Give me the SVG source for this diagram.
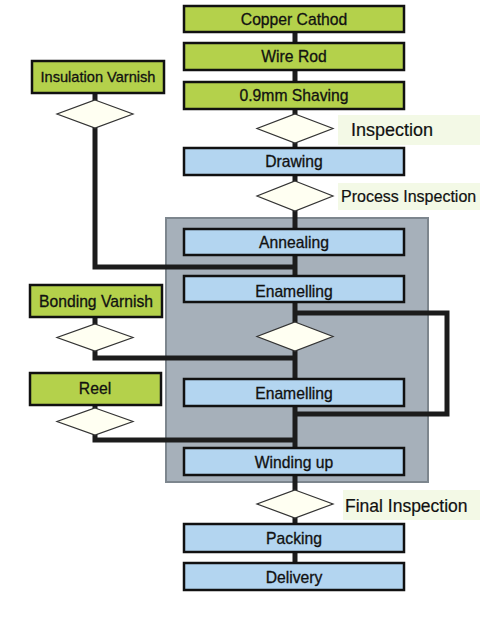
<svg xmlns="http://www.w3.org/2000/svg" width="480" height="630" viewBox="0 0 480 630">
<style>
.g{fill:#b4d14b;stroke:#111;stroke-width:2.5}
.b{fill:#b3d5f0;stroke:#111;stroke-width:2.5}
.d{fill:#fffff2;stroke:#333;stroke-width:1.2}
.t{font-family:"Liberation Sans",Arial,sans-serif;font-size:15.7px;fill:#111;stroke:#111;stroke-width:0.3;text-anchor:middle}
.l{font-family:"Liberation Sans",Arial,sans-serif;fill:#111;stroke:#111;stroke-width:0.2}
.c{fill:none;stroke:#1c1c1c;stroke-width:5;stroke-linejoin:miter}
.lb{fill:#f3f9e6}
</style>
<rect id="panel" x="166" y="218" width="262" height="264" fill="#a6b0ba" stroke="#7d868e" stroke-width="2"/>
<g id="labels-bg">
<rect class="lb" x="338" y="115" width="142" height="30"/>
<rect class="lb" x="338" y="183" width="142" height="27"/>
<rect class="lb" x="343" y="490" width="137" height="30"/>
</g>
<g id="connectors">
<path class="c" d="M295 32V565"/>
<path class="c" d="M95 93V267H295"/>
<path class="c" d="M95 317V358H295"/>
<path class="c" d="M95 405V440H295"/>
<path class="c" d="M295 313H447V414H295"/>
</g>
<g id="copper"><rect class="g" x="184" y="6" width="220" height="26"/><text class="t" x="294" y="25">Copper Cathod</text></g>
<g id="wirerod"><rect class="g" x="184" y="43" width="220" height="27"/><text class="t" x="294" y="62">Wire Rod</text></g>
<g id="shaving"><rect class="g" x="184" y="82" width="220" height="27"/><text class="t" x="294" y="101">0.9mm Shaving</text></g>
<g id="insp1"><polygon class="d" points="295,114 333,128.5 295,143 257,128.5"/><text class="l" x="351" y="136" style="font-size:18px">Inspection</text></g>
<g id="drawing"><rect class="b" x="184" y="148" width="220" height="27"/><text class="t" x="294" y="167">Drawing</text></g>
<g id="insp2"><polygon class="d" points="295,181 333,196 295,211 257,196"/><text class="l" x="341" y="202" style="font-size:16px">Process Inspection</text></g>
<g id="annealing"><rect class="b" x="184" y="229" width="220" height="26"/><text class="t" x="294" y="248">Annealing</text></g>
<g id="enam1"><rect class="b" x="184" y="276" width="220" height="26"/><text class="t" x="294" y="297">Enamelling</text></g>
<g id="insp3"><polygon class="d" points="295,322 333,336.5 295,351 257,336.5"/></g>
<g id="enam2"><rect class="b" x="184" y="379" width="220" height="27"/><text class="t" x="294" y="399">Enamelling</text></g>
<g id="winding"><rect class="b" x="184" y="448" width="220" height="27"/><text class="t" x="294" y="468">Winding up</text></g>
<g id="insp4"><polygon class="d" points="295,490 333,504 295,518 257,504"/><text class="l" x="345" y="512" style="font-size:17.5px">Final Inspection</text></g>
<g id="packing"><rect class="b" x="184" y="524" width="220" height="28"/><text class="t" x="294" y="544">Packing</text></g>
<g id="delivery"><rect class="b" x="184" y="563" width="220" height="27"/><text class="t" x="294" y="583">Delivery</text></g>
<g id="insvarnish"><rect class="g" x="32" y="61" width="132" height="32"/><text class="t" x="98" y="82" style="font-size:14.6px">Insulation Varnish</text></g>
<g id="insd"><polygon class="d" points="95,100 133,114 95,128 57,114"/></g>
<g id="bondvarnish"><rect class="g" x="30" y="285" width="132" height="32"/><text class="t" x="96" y="306.5" style="font-size:15.7px">Bonding Varnish</text></g>
<g id="bondd"><polygon class="d" points="95,324 133,337.5 95,351 57,337.5"/></g>
<g id="reel"><rect class="g" x="30" y="373" width="131" height="32"/><text class="t" x="95" y="394">Reel</text></g>
<g id="reeld"><polygon class="d" points="95,408 133,421.5 95,435 57,421.5"/></g>
</svg>
